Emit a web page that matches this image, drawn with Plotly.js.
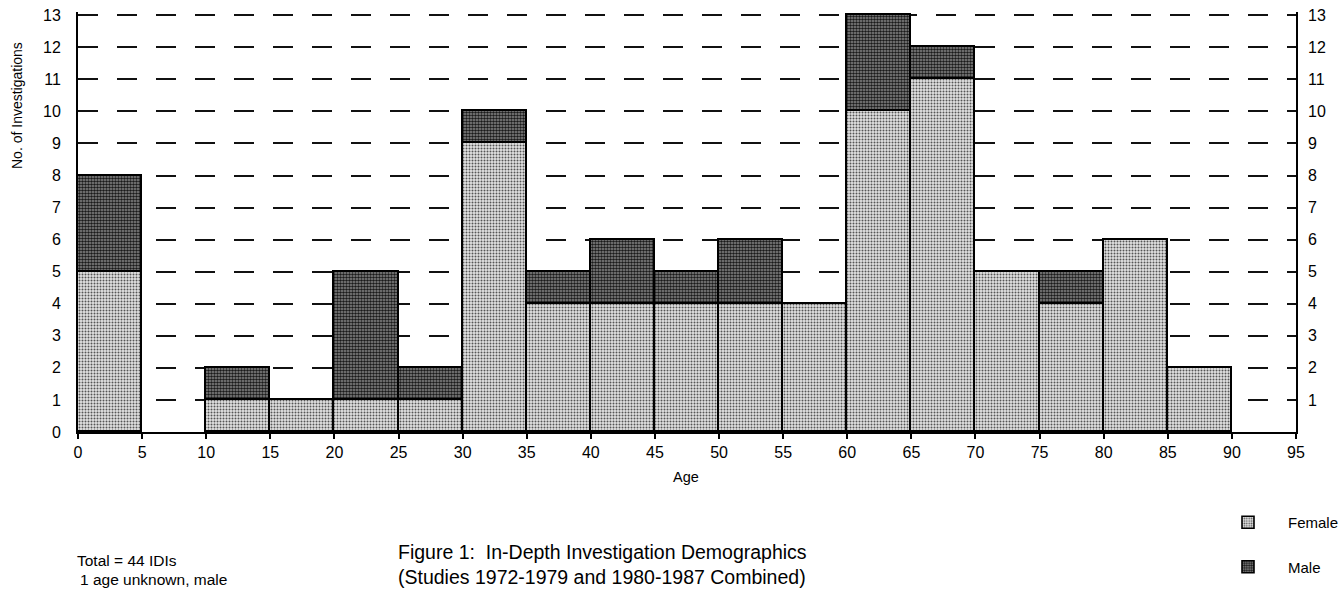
<!DOCTYPE html>
<html>
<head>
<meta charset="utf-8">
<script src="https://cdn.plot.ly/plotly-3.0.1.min.js"></script>
<style>
  html, body { margin: 0; padding: 0; background: #fff; }
  #chart { width: 1340px; height: 590px; }
</style>
</head>
<body>
<div id="chart"></div>
<script>
// Age bins (lower edge, 5-year width)
var binStarts = [0, 5, 10, 15, 20, 25, 30, 35, 40, 45, 50, 55, 60, 65, 70, 75, 80, 85, 90];
var female    = [5, 0, 1, 1, 1, 1, 9, 4, 4, 4, 4, 4, 10, 11, 5, 4, 6, 2, 0];
var male      = [3, 0, 1, 0, 4, 1, 1, 1, 2, 1, 2, 0, 3, 1, 0, 1, 0, 0, 0];
var xTicks    = [0, 5, 10, 15, 20, 25, 30, 35, 40, 45, 50, 55, 60, 65, 70, 75, 80, 85, 90, 95];
var yTicksLeft  = [0, 1, 2, 3, 4, 5, 6, 7, 8, 9, 10, 11, 12, 13];
var yTicksRight = [1, 2, 3, 4, 5, 6, 7, 8, 9, 10, 11, 12, 13];

var binWidth = 5;
var centers = binStarts.map(function (b) { return b + binWidth / 2; });
var totals = female.map(function (f, i) { return f + male[i]; });
// empty bins are left out so no zero-height outline is drawn on the axis
var nz = function (v) { return v === 0 ? null : v; };

var FONT = '"Liberation Sans", Arial, Helvetica, sans-serif';
var TICK = 16;

var traces = [
  {
    type: 'bar', name: 'Female', x: centers, y: female.map(nz), width: binWidth,
    legendgroup: 'f',
    marker: {
      color: '#d0d0d0',
      line: { color: '#000', width: 1.6 },
      pattern: { shape: '.', bgcolor: '#e2e2e2', fgcolor: '#555', size: 3, solidity: 0.35, fillmode: 'replace' }
    },
    hoverinfo: 'x+y+name'
  },
  {
    type: 'bar', name: 'Male', x: centers, y: male.map(nz), width: binWidth,
    legendgroup: 'm',
    marker: {
      color: '#666',
      line: { color: '#000', width: 1.6 },
      pattern: { shape: '.', bgcolor: '#8a8a8a', fgcolor: '#1a1a1a', size: 3, solidity: 0.55, fillmode: 'replace' }
    },
    hoverinfo: 'x+y+name'
  },
  {
    // invisible companion so the right-hand axis is drawn
    type: 'scatter', mode: 'markers', x: centers, y: totals, yaxis: 'y2',
    marker: { opacity: 0 }, showlegend: false, hoverinfo: 'skip'
  }
];

// plot area: x 78..1296, y 12..432 (range 0..13.1)
var PT = 12, PB = 432, PL = 78, PR = 1296;
var pxX = function (px) { return (px - PL) / (PR - PL); };
var pxY = function (py) { return (PB - py) / (PB - PT); };

var layout = {
  width: 1340, height: 590,
  margin: { l: PL, r: 1340 - PR, t: PT, b: 590 - PB, pad: 0, autoexpand: false },
  paper_bgcolor: '#fff', plot_bgcolor: '#fff',
  font: { family: FONT, size: 14, color: '#000' },
  barmode: 'stack', bargap: 0,
  showlegend: true,
  legend: {
    x: pxX(1208), y: pxY(506), xanchor: 'left', yanchor: 'top',
    traceorder: 'grouped', tracegroupgap: 22, itemwidth: 70,
    font: { family: FONT, size: 15, color: '#000' },
    bgcolor: 'rgba(0,0,0,0)'
  },
  xaxis: {
    range: [0, 95], tickvals: xTicks, ticktext: xTicks.map(String),
    showgrid: false, zeroline: false, automargin: false,
    showline: true, linecolor: '#000', linewidth: 2,
    ticks: 'outside', ticklen: 5, tickwidth: 1.8, tickcolor: '#000',
    tickfont: { family: FONT, size: TICK },
    fixedrange: true
  },
  yaxis: {
    range: [0, 13.1], tickvals: yTicksLeft, ticktext: yTicksLeft.map(String),
    showgrid: true, gridcolor: '#111', gridwidth: 1.9, griddash: '20px,19px',
    zeroline: false, automargin: false,
    showline: true, linecolor: '#000', linewidth: 1.8,
    ticks: '', ticklabelstandoff: 12,
    tickfont: { family: FONT, size: TICK },
    fixedrange: true
  },
  yaxis2: {
    overlaying: 'y', side: 'right', anchor: 'x',
    range: [0, 13.1], tickvals: yTicksRight, ticktext: yTicksRight.map(String),
    showgrid: false, zeroline: false, automargin: false,
    showline: true, linecolor: '#000', linewidth: 1.8,
    ticks: '', ticklabelstandoff: 7,
    tickfont: { family: FONT, size: TICK },
    fixedrange: true
  },
  annotations: [
    { xref: 'paper', yref: 'paper', x: pxX(17), y: pxY(106), text: 'No. of Investigations',
      textangle: -90, showarrow: false, xanchor: 'center', yanchor: 'middle',
      font: { family: FONT, size: 14 } },
    { xref: 'paper', yref: 'paper', x: pxX(686), y: pxY(477), text: 'Age',
      showarrow: false, xanchor: 'center', yanchor: 'middle',
      font: { family: FONT, size: 14.5 } },
    { xref: 'paper', yref: 'paper', x: pxX(75), y: pxY(560), text: 'Total = 44 IDIs',
      showarrow: false, xanchor: 'left', yanchor: 'middle',
      font: { family: FONT, size: 15.5 } },
    { xref: 'paper', yref: 'paper', x: pxX(78), y: pxY(579), text: '1 age unknown, male',
      showarrow: false, xanchor: 'left', yanchor: 'middle',
      font: { family: FONT, size: 15.5 } },
    { xref: 'paper', yref: 'paper', x: pxX(396), y: pxY(552), text: 'Figure 1:  In-Depth Investigation Demographics',
      showarrow: false, xanchor: 'left', yanchor: 'middle',
      font: { family: FONT, size: 19.5 } },
    { xref: 'paper', yref: 'paper', x: pxX(396), y: pxY(577), text: '(Studies 1972-1979 and 1980-1987 Combined)',
      showarrow: false, xanchor: 'left', yanchor: 'middle',
      font: { family: FONT, size: 19.5 } }
  ]
};

Plotly.newPlot('chart', traces, layout, { displayModeBar: false });
</script>
</body>
</html>
